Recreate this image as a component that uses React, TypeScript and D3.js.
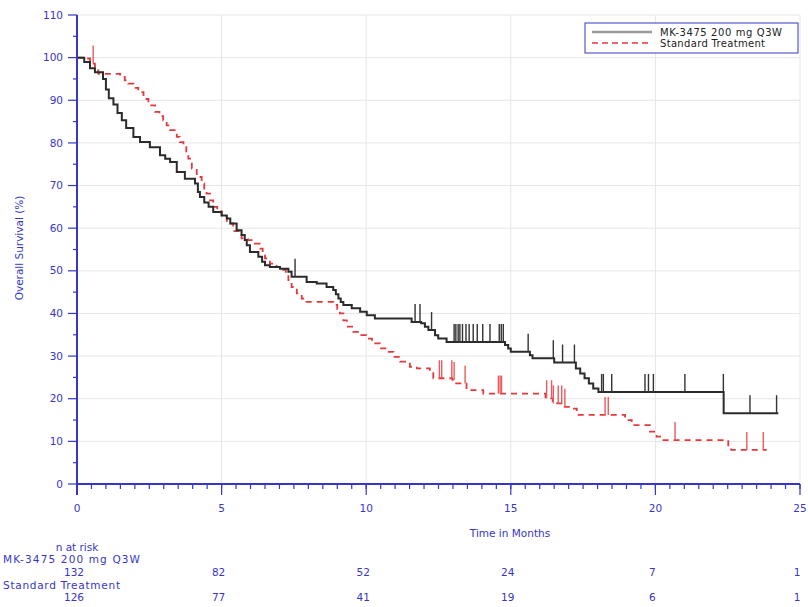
import React from "react";
import * as d3 from "d3";

// Kaplan–Meier estimates: time (months) at which survival steps to the given value (%)
const mkTimes = [0, 0.25, 0.45, 0.62, 0.9, 1.0, 1.1, 1.26, 1.4, 1.55, 1.7, 1.95, 2.18, 2.52, 2.87, 3.05, 3.22, 3.45, 3.73, 4.08, 4.18, 4.25, 4.4, 4.55, 4.71, 5.0, 5.18, 5.3, 5.52, 5.69, 5.8, 5.87, 5.98, 6.27, 6.4, 6.5, 6.67, 7.02, 7.31, 7.42, 7.94, 8.29, 8.63, 8.86, 8.95, 9.04, 9.12, 9.21, 9.5, 9.79, 10.02, 10.3, 11.57, 11.9, 12.03, 12.15, 12.38, 12.49, 12.78, 14.8, 14.91, 15.0, 15.66, 15.75, 16.5, 17.25, 17.4, 17.55, 17.7, 17.85, 18.03, 22.36];
const mkSurv = [100, 99, 97.5, 96.6, 95, 92.5, 90.5, 89, 87, 85.3, 83.5, 81.4, 80.2, 79, 77.1, 76.3, 75.5, 73.2, 71.6, 70.5, 68.5, 67.3, 66, 65, 63.8, 63, 62.3, 61.1, 59.5, 58.4, 57.2, 56, 54.4, 53.3, 52.1, 51.3, 50.9, 50.5, 49.8, 48.6, 47.4, 47, 46.2, 45.5, 44.5, 43.5, 42.7, 42, 41.2, 40.4, 39.6, 38.8, 38.0, 37.7, 36.9, 36.1, 34.9, 34.1, 33.3, 32.6, 31.8, 31.0, 30.2, 29.5, 28.5, 27.1, 25.9, 24.8, 23.6, 22.4, 21.6, 16.6];
const mkEnd = 24.25;
const mkCensor = [7.54, 11.69, 11.86, 12.26, 13.04, 13.1, 13.18, 13.24, 13.33, 13.45, 13.56, 13.7, 13.84, 14.03, 14.28, 14.6, 14.67, 14.74, 15.6, 16.47, 16.79, 17.2, 18.14, 18.2, 18.49, 19.64, 19.76, 19.93, 21.02, 22.35, 23.27, 24.19];

const stdTimes = [0, 0.2, 0.45, 0.62, 0.74, 1.49, 1.65, 1.77, 1.95, 2.12, 2.3, 2.47, 2.7, 2.85, 2.98, 3.1, 3.22, 3.45, 3.55, 3.68, 3.78, 3.85, 3.97, 4.14, 4.31, 4.4, 4.48, 4.6, 4.71, 4.85, 5.0, 5.18, 5.4, 5.69, 5.92, 6.15, 6.33, 6.42, 6.5, 6.67, 6.9, 7.13, 7.22, 7.31, 7.42, 7.6, 7.77, 7.94, 8.86, 9.0, 9.09, 9.21, 9.33, 9.55, 9.79, 10.0, 10.2, 10.48, 10.7, 10.94, 11.17, 11.51, 11.75, 12.2, 12.32, 12.98, 13.06, 13.47, 14.05, 16.2, 16.45, 16.78, 17.1, 17.28, 18.95, 19.18, 19.81, 20.04, 20.21, 22.52, 22.62];
const stdSurv = [100, 99.8, 98.6, 97, 96.2, 95.5, 94.7, 93.9, 92.9, 91.9, 90.3, 88.8, 87.3, 86.3, 85.3, 84.1, 83, 81.4, 80.2, 79, 77.6, 76.3, 74, 72, 70.5, 69.3, 68.1, 66.5, 65, 64, 63, 61.1, 59.3, 57.6, 57.2, 56.4, 55.2, 54, 52.9, 51.7, 50.9, 50.2, 49, 47.8, 46.2, 44.7, 43.5, 42.7, 42, 41, 40, 38.4, 36.9, 35.7, 34.9, 34.1, 33, 31.8, 31, 29.8, 28.7, 27.5, 27.1, 26.3, 24.8, 24.4, 23.6, 22, 21.2, 20.1, 18.9, 18.1, 17.7, 16.2, 15, 13.8, 12.3, 11.1, 10.3, 8.7, 8];
const stdEnd = 23.85;
const stdCensor = [0.56, 12.53, 12.61, 12.96, 13.04, 13.42, 14.57, 14.63, 14.68, 16.24, 16.41, 16.47, 16.64, 16.76, 16.87, 18.26, 18.37, 20.68, 23.16, 23.73];

// Numbers at risk
const riskTimes = [0, 5, 10, 15, 20, 25];
const mkRisk = [132, 82, 52, 24, 7, 1];
const stdRisk = [126, 77, 41, 19, 6, 1];

const armNames = ["MK-3475 200 mg Q3W", "Standard Treatment"];
const xTicks = [0, 5, 10, 15, 20, 25];
const yTicks = [0, 10, 20, 30, 40, 50, 60, 70, 80, 90, 100, 110];

const BLUE = "#3636c8";
const FONT = "'DejaVu Sans', sans-serif";

const x = d3.scaleLinear().domain([0, 25]).range([77, 800]);
const y = d3.scaleLinear().domain([0, 110]).range([484, 15]);

function stepPath(times: number[], surv: number[], end: number) {
  const pts: [number, number][] = times.map((t, i) => [t, surv[i]]);
  pts.push([end, surv[surv.length - 1]]);
  return d3
    .line<[number, number]>()
    .x((d) => x(d[0]))
    .y((d) => y(d[1]))
    .curve(d3.curveStepAfter)(pts) as string;
}

function survAt(times: number[], surv: number[], t: number) {
  const i = d3.bisectRight(times, t) - 1;
  return surv[Math.max(0, i)];
}

export default function App() {
  const minorX = d3.range(0, 25.001, 0.5);
  const minorY = d3.range(5, 110, 10);
  const tickH = 18;

  return (
    <svg
      width={808}
      height={607}
      style={{ position: "absolute", left: 0, top: 0, background: "#fff" }}
      fontFamily={FONT}
    >
      {/* grid */}
      <g stroke="#e6e6e6" strokeWidth={1}>
        {yTicks.filter((v) => v > 0).map((v) => (
          <line key={"gy" + v} x1={x(0)} x2={x(25)} y1={y(v)} y2={y(v)} />
        ))}
        {xTicks.filter((v) => v > 0).map((v) => (
          <line key={"gx" + v} x1={x(v)} x2={x(v)} y1={y(0)} y2={y(110)} />
        ))}
      </g>

      {/* curves */}
      <path
        d={stepPath(stdTimes, stdSurv, stdEnd)}
        fill="none"
        stroke="#e3383c"
        strokeWidth={1.8}
        strokeDasharray="6,5"
      />
      <path
        d={stepPath(mkTimes, mkSurv, mkEnd)}
        fill="none"
        stroke="#2b2b2b"
        strokeWidth={2}
      />

      {/* censoring marks */}
      <g stroke="#ea5a5e" strokeWidth={1.4}>
        {stdCensor.map((t, i) => {
          const yy = y(survAt(stdTimes, stdSurv, t));
          return <line key={"sc" + i} x1={x(t)} x2={x(t)} y1={yy} y2={yy - tickH} />;
        })}
      </g>
      <g stroke="#333" strokeWidth={1.4}>
        {mkCensor.map((t, i) => {
          const yy = y(survAt(mkTimes, mkSurv, t));
          return <line key={"mc" + i} x1={x(t)} x2={x(t)} y1={yy} y2={yy - tickH} />;
        })}
      </g>

      {/* y axis */}
      <g stroke={BLUE}>
        <line x1={x(0)} x2={x(0)} y1={y(110)} y2={y(0) + 11} strokeWidth={2} />
        {yTicks.map((v) => (
          <line key={"yt" + v} x1={x(0) - 9} x2={x(0)} y1={y(v)} y2={y(v)} strokeWidth={1.2} />
        ))}
        {minorY.map((v) => (
          <line key={"ym" + v} x1={x(0) - 4} x2={x(0)} y1={y(v)} y2={y(v)} strokeWidth={1.2} />
        ))}
      </g>
      <g fill={BLUE} fontSize={10.5} textAnchor="end">
        {yTicks.map((v) => (
          <text key={"yl" + v} x={63} y={y(v)} dy="0.35em">
            {v}
          </text>
        ))}
      </g>
      <text
        transform={`translate(19,${248}) rotate(-90)`}
        textAnchor="middle"
        fill={BLUE}
        fontSize={10.5}
        dy="0.35em"
      >
        Overall Survival (%)
      </text>

      {/* x axis */}
      <g stroke={BLUE}>
        <line x1={x(0)} x2={x(25)} y1={y(0)} y2={y(0)} strokeWidth={2} />
        {minorX.map((v) => (
          <line key={"xm" + v} x1={x(v)} x2={x(v)} y1={y(0)} y2={y(0) + 5} strokeWidth={1.2} />
        ))}
        {xTicks.map((v) => (
          <line key={"xt" + v} x1={x(v)} x2={x(v)} y1={y(0)} y2={y(0) + 11} strokeWidth={1.2} />
        ))}
      </g>
      <g fill={BLUE} fontSize={10.5} textAnchor="middle">
        {xTicks.map((v) => (
          <text key={"xl" + v} x={x(v)} y={508} dy="0.35em">
            {v}
          </text>
        ))}
      </g>
      <text x={510} y={533} dy="0.35em" textAnchor="middle" fill={BLUE} fontSize={10.5}>
        Time in Months
      </text>

      {/* numbers at risk */}
      <g fill={BLUE} fontSize={10.5}>
        <text x={77} y={547} dy="0.35em" textAnchor="middle">n at risk</text>
        <text x={3} y={559} dy="0.35em" textLength={137} lengthAdjust="spacing">{armNames[0]}</text>
        <text x={3} y={585} dy="0.35em" textLength={117} lengthAdjust="spacing">{armNames[1]}</text>
        {riskTimes.map((t, i) => (
          <text key={"r1" + i} x={x(t) - 3} y={572} dy="0.35em" textAnchor="middle">
            {mkRisk[i]}
          </text>
        ))}
        {riskTimes.map((t, i) => (
          <text key={"r2" + i} x={x(t) - 3} y={597} dy="0.35em" textAnchor="middle">
            {stdRisk[i]}
          </text>
        ))}
      </g>

      {/* legend */}
      <rect x={585} y={23} width={213} height={30} fill="#fff" stroke={BLUE} strokeWidth={1} />
      <line x1={592} x2={652} y1={32} y2={32} stroke="#9a9a9a" strokeWidth={2.5} />
      <line x1={592} x2={652} y1={43} y2={43} stroke="#e3383c" strokeWidth={1.5} strokeDasharray="6,4" />
      <g fill="#222" fontSize={10}>
        <text x={660} y={32} dy="0.35em" textLength={122} lengthAdjust="spacing">{armNames[0]}</text>
        <text x={660} y={43.5} dy="0.35em" textLength={105} lengthAdjust="spacing">{armNames[1]}</text>
      </g>
    </svg>
  );
}
